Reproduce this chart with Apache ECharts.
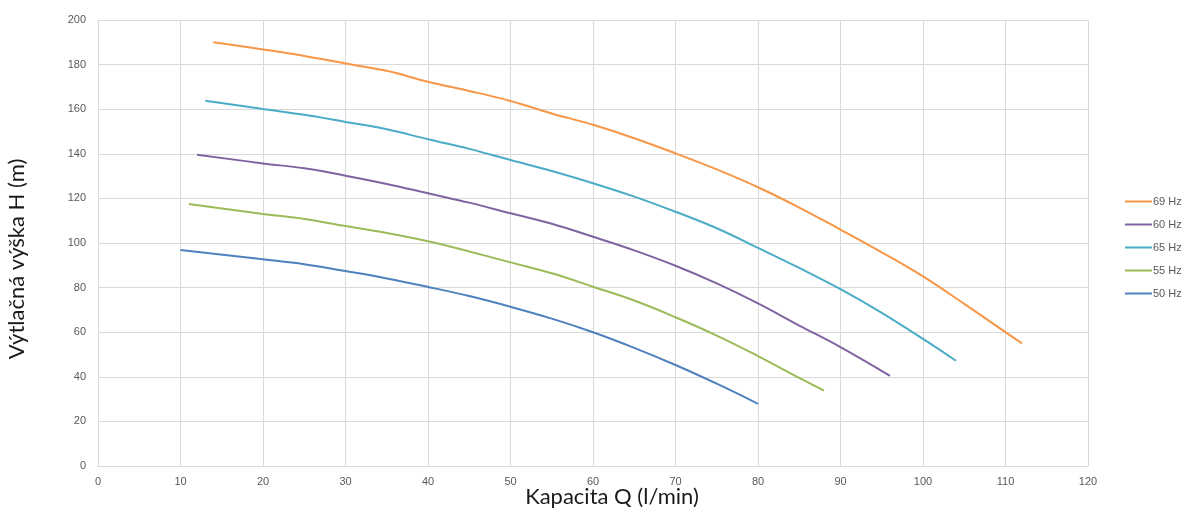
<!DOCTYPE html>
<html>
<head>
<meta charset="utf-8">
<script src="https://cdn.jsdelivr.net/npm/echarts@6/dist/echarts.min.js"></script>
<style>html,body{margin:0;padding:0;background:#fff}#c{width:1182px;height:512px}</style>
</head>
<body>
<div id="c"></div>
<script>
var xTicks = [0, 120, 10];
var yTicks = [0, 200, 20];
var seriesNames = ['69 Hz', '60 Hz', '65 Hz', '55 Hz', '50 Hz'];
var hz69 = [[14,190],[20,186.8],[25,183.9],[30,180.5],[35,177.2],[40,172.3],[45,168.2],[50,163.7],[55,158.1],[60,153],[65,147],[70,140.2],[75,133],[80,125],[85,115.9],[90,106],[95,95.8],[100,85],[105,72.7],[110,60],[112,55]];
var hz60 = [[12,139.6],[20,135.7],[25,133.5],[30,130.2],[35,126.5],[40,122.3],[45,118.1],[50,113.3],[55,108.6],[60,102.8],[65,96.7],[70,89.8],[75,81.9],[80,72.9],[85,63],[90,53.3],[96,40.4]];
var hz65 = [[13,163.8],[20,160.1],[25,157.5],[30,154.3],[35,151],[40,146.5],[45,142.2],[50,137.2],[55,132.3],[60,126.8],[65,120.8],[70,114],[75,106.6],[80,97.8],[85,88.8],[90,79.3],[95,68.7],[100,57],[104,47.2]];
var hz55 = [[11,117.5],[20,113],[25,110.8],[30,107.6],[35,104.5],[40,100.8],[45,96.2],[50,91.3],[55,86.4],[60,80.4],[65,74.2],[70,66.7],[75,58.5],[80,49.3],[85,39.5],[88,33.8]];
var hz50 = [[10,96.9],[20,92.7],[25,90.5],[30,87.4],[35,84.1],[40,80.3],[45,76.2],[50,71.4],[55,66.1],[60,60],[65,53],[70,45.3],[75,36.9],[80,27.9]];
var seriesData = [hz69, hz60, hz65, hz55, hz50];
var colors = ['#F79646', '#8064A2', '#4BACC6', '#9BBB59', '#4F81BD'];

var chart = echarts.init(document.getElementById('c'), null, {renderer: 'canvas'});
var labelColor = '#595959';
var gridColor = '#d9d9d9';
var option = {
  animation: false,
  backgroundColor: '#ffffff',
  color: colors,
  grid: {left: 98, right: 94, top: 20, bottom: 46, containLabel: false, outerBoundsMode: 'none'},
  legend: {
    orient: 'vertical',
    left: 1125,
    top: 196,
    padding: 0,
    itemWidth: 27,
    itemHeight: 10,
    itemGap: 12,
    icon: 'path://M0,4 L27,4 L27,6 L0,6 Z',
    textStyle: {color: labelColor, fontSize: 11, fontFamily: 'Liberation Sans', padding: [0,0,0,-4], overflow: 'none'},
    data: seriesNames
  },
  xAxis: {
    type: 'value',
    min: xTicks[0], max: xTicks[1], interval: xTicks[2],
    name: 'Kapacita Q (l/min)',
    nameLocation: 'middle',
    nameGap: 20,
    nameMoveOverlap: false,
    nameTextStyle: {fontSize: 22, color: '#1a1a1a', fontFamily: 'Lato', padding: [0,0,0,38]},
    axisLine: {show: true, lineStyle: {color: gridColor, width: 1}},
    axisTick: {show: false},
    axisLabel: {color: labelColor, fontSize: 11, fontFamily: 'Liberation Sans', margin: 10},
    splitLine: {show: true, lineStyle: {color: gridColor, width: 1}}
  },
  yAxis: {
    type: 'value',
    min: yTicks[0], max: yTicks[1], interval: yTicks[2],
    name: 'Výtlačná výška H (m)',
    nameLocation: 'middle',
    nameGap: 70,
    nameMoveOverlap: false,
    nameTextStyle: {fontSize: 22, color: '#1a1a1a', fontFamily: 'Lato', padding: [0,32,0,0]},
    axisLine: {show: false},
    axisTick: {show: false},
    axisLabel: {color: labelColor, fontSize: 11, fontFamily: 'Liberation Sans', margin: 12},
    splitLine: {show: true, lineStyle: {color: gridColor, width: 1}}
  },
  series: seriesNames.map(function (n, i) {
    return {
      name: n,
      type: 'line',
      data: seriesData[i],
      smooth: 0.4,
      showSymbol: false,
      symbol: 'none',
      lineStyle: {width: 2, color: colors[i]},
      itemStyle: {color: colors[i]}
    };
  })
};
chart.setOption(option);
</script>
</body>
</html>
